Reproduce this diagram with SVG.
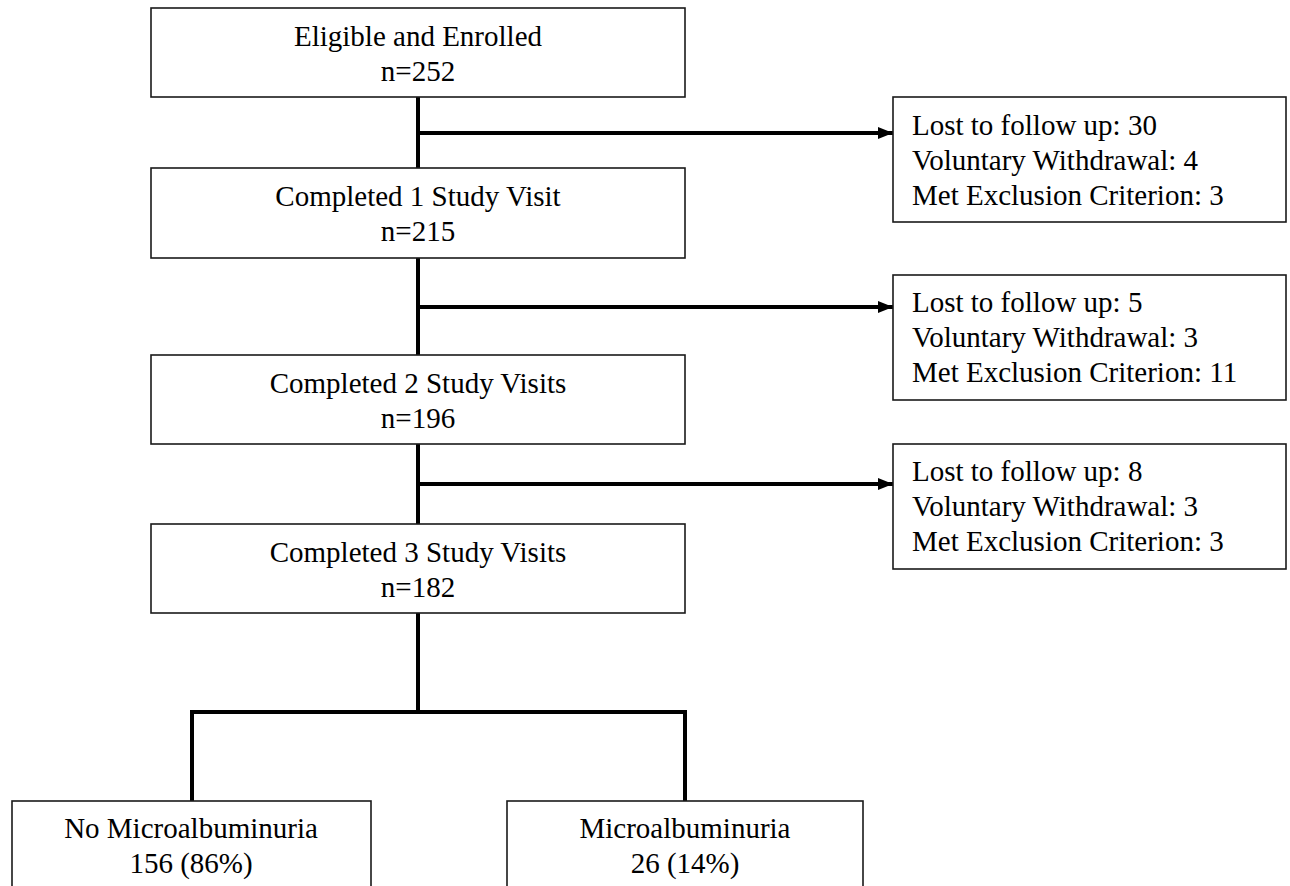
<svg xmlns="http://www.w3.org/2000/svg" width="1290" height="886" viewBox="0 0 1290 886">
<style>
.box{fill:#fff;stroke:#1a1a1a;stroke-width:1.6}
.t{font-family:"Liberation Serif","Times New Roman",serif;font-size:29px;fill:#000}
.c{text-anchor:middle}
.ln{stroke:#000;stroke-width:4;fill:none}
</style>
<defs>
<marker id="ah" markerUnits="userSpaceOnUse" markerWidth="16" markerHeight="14" refX="15" refY="7" orient="auto">
<path d="M0,1 L15,7 L0,13 Z" fill="#000"/>
</marker>
</defs>
<rect width="1290" height="886" fill="#fff"/>
<g id="connectors">
<line class="ln" x1="418" y1="89" x2="418" y2="168"/>
<line class="ln" x1="418" y1="258" x2="418" y2="355"/>
<line class="ln" x1="418" y1="444" x2="418" y2="524"/>
<line class="ln" x1="418" y1="613" x2="418" y2="712"/>
<line class="ln" x1="416" y1="133" x2="893" y2="133" marker-end="url(#ah)"/>
<line class="ln" x1="416" y1="307" x2="893" y2="307" marker-end="url(#ah)"/>
<line class="ln" x1="416" y1="484" x2="893" y2="484" marker-end="url(#ah)"/>
<polyline class="ln" points="192,801 192,712 685,712 685,801"/>
</g>
<g id="n-enrolled">
<rect class="box" x="151" y="8" width="534" height="89"/>
<text class="t c" x="418" y="46">Eligible and Enrolled</text>
<text class="t c" x="418" y="81">n=252</text>
</g>
<g id="n-visit1">
<rect class="box" x="151" y="168" width="534" height="90"/>
<text class="t c" x="418" y="206">Completed 1 Study Visit</text>
<text class="t c" x="418" y="241">n=215</text>
</g>
<g id="n-visit2">
<rect class="box" x="151" y="355" width="534" height="89"/>
<text class="t c" x="418" y="393">Completed 2 Study Visits</text>
<text class="t c" x="418" y="428">n=196</text>
</g>
<g id="n-visit3">
<rect class="box" x="151" y="524" width="534" height="89"/>
<text class="t c" x="418" y="562">Completed 3 Study Visits</text>
<text class="t c" x="418" y="597">n=182</text>
</g>
<g id="n-excl1">
<rect class="box" x="893" y="97" width="393" height="125"/>
<text class="t" x="912" y="135">Lost to follow up: 30</text>
<text class="t" x="912" y="170">Voluntary Withdrawal: 4</text>
<text class="t" x="912" y="205">Met Exclusion Criterion: 3</text>
</g>
<g id="n-excl2">
<rect class="box" x="893" y="275" width="393" height="125"/>
<text class="t" x="912" y="312">Lost to follow up: 5</text>
<text class="t" x="912" y="347">Voluntary Withdrawal: 3</text>
<text class="t" x="912" y="382">Met Exclusion Criterion: 11</text>
</g>
<g id="n-excl3">
<rect class="box" x="893" y="444" width="393" height="125"/>
<text class="t" x="912" y="481">Lost to follow up: 8</text>
<text class="t" x="912" y="516">Voluntary Withdrawal: 3</text>
<text class="t" x="912" y="551">Met Exclusion Criterion: 3</text>
</g>
<g id="n-nomicro">
<rect class="box" x="12" y="801" width="359" height="100"/>
<text class="t c" x="191" y="838">No Microalbuminuria</text>
<text class="t c" x="191" y="873">156 (86%)</text>
</g>
<g id="n-micro">
<rect class="box" x="507" y="801" width="356" height="100"/>
<text class="t c" x="685" y="838">Microalbuminuria</text>
<text class="t c" x="685" y="873">26 (14%)</text>
</g>
</svg>
